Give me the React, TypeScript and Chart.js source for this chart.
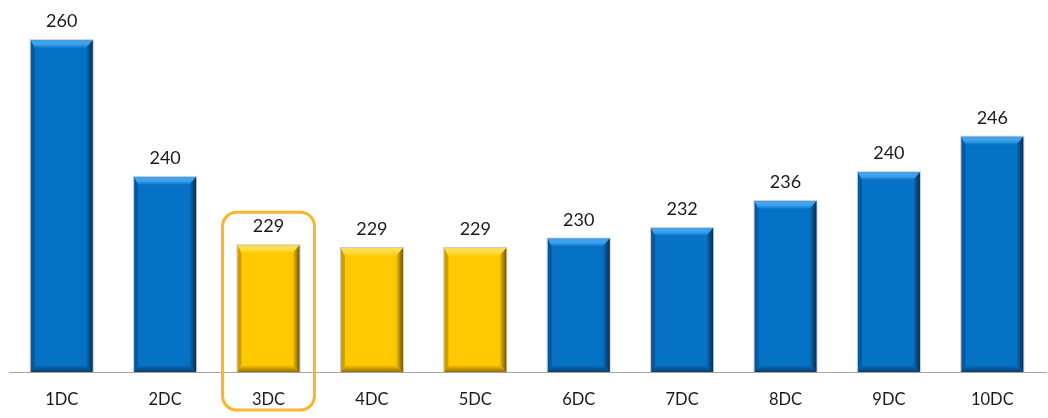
import React, { useEffect, useRef } from "react";
import { Chart, registerables } from "chart.js";

Chart.register(...registerables);

const categories = ["1DC", "2DC", "3DC", "4DC", "5DC", "6DC", "7DC", "8DC", "9DC", "10DC"];
const values = [260.0, 239.6, 229.4, 229.0, 229.0, 230.4, 232.0, 236.0, 240.3, 245.6];
const valueLabels = ["260", "240", "229", "229", "229", "230", "232", "236", "240", "246"];
const yellowCategories = ["3DC", "4DC", "5DC"];
const boxedCategory = "3DC";
const axisMin = 210.5;
const axisMax = 266;

const BLUE = { base: "#0572C6", light: "#3FA2EC", dark: "#0A2C4E" };
const YELLOW = { base: "#FFC800", light: "#FFDE4D", dark: "#6E5500" };

const FONT = "Lato, 'Open Sans', sans-serif";

function pal(i: number) {
  return yellowCategories.includes(categories[i]) ? YELLOW : BLUE;
}

const bevelPlugin = {
  id: "bevel",
  afterDatasetsDraw(chart: any) {
    const ctx = chart.ctx;
    const meta = chart.getDatasetMeta(0);
    meta.data.forEach((bar: any, i: number) => {
      const p = pal(i);
      const L = bar.x - bar.width / 2;
      const R = bar.x + bar.width / 2;
      const T = bar.y;
      const B = Math.min(bar.base, chart.chartArea.bottom);
      const bt = 8, br = 7, bb = 7, bl = 4;
      ctx.save();
      let g = ctx.createLinearGradient(0, T, 0, T + bt);
      g.addColorStop(0, p.light);
      g.addColorStop(0.5, p.light);
      g.addColorStop(1, p.base);
      ctx.fillStyle = g;
      ctx.beginPath();
      ctx.moveTo(L, T);
      ctx.lineTo(R, T);
      ctx.lineTo(R - br, T + bt);
      ctx.lineTo(L + bl, T + bt);
      ctx.closePath();
      ctx.fill();
      g = ctx.createLinearGradient(R - br, 0, R, 0);
      g.addColorStop(0, p.base);
      g.addColorStop(1, p.dark);
      ctx.fillStyle = g;
      ctx.beginPath();
      ctx.moveTo(R, T);
      ctx.lineTo(R, B);
      ctx.lineTo(R - br, B - bb);
      ctx.lineTo(R - br, T + bt);
      ctx.closePath();
      ctx.fill();
      g = ctx.createLinearGradient(0, B - bb, 0, B);
      g.addColorStop(0, p.base);
      g.addColorStop(1, p.dark);
      ctx.globalAlpha = 0.75;
      ctx.fillStyle = g;
      ctx.beginPath();
      ctx.moveTo(L, B);
      ctx.lineTo(R, B);
      ctx.lineTo(R - br, B - bb);
      ctx.lineTo(L + bl, B - bb);
      ctx.closePath();
      ctx.fill();
      ctx.globalAlpha = 0.35;
      ctx.fillStyle = p.dark;
      ctx.beginPath();
      ctx.moveTo(L, T);
      ctx.lineTo(L + bl, T + bt);
      ctx.lineTo(L + bl, B - bb);
      ctx.lineTo(L, B);
      ctx.closePath();
      ctx.fill();
      ctx.globalAlpha = 0.5;
      ctx.strokeStyle = "#9A9A9A";
      ctx.lineWidth = 1;
      ctx.strokeRect(L - 0.5, T - 0.5, R - L + 1, B - T + 1);
      ctx.restore();
    });
  },
};

const labelPlugin = {
  id: "valueLabels",
  afterDatasetsDraw(chart: any) {
    const ctx = chart.ctx;
    const meta = chart.getDatasetMeta(0);
    ctx.save();
    ctx.font = `18px ${FONT}`;
    ctx.fillStyle = "#1A1A1A";
    ctx.textAlign = "center";
    ctx.textBaseline = "alphabetic";
    meta.data.forEach((bar: any, i: number) => {
      ctx.fillText(valueLabels[i], bar.x, bar.y - 13);
    });
    ctx.restore();
  },
};

const axisLinePlugin = {
  id: "axisLine",
  beforeDatasetsDraw(chart: any) {
    const ctx = chart.ctx;
    const y = Math.round(chart.chartArea.bottom) + 0.5;
    ctx.save();
    ctx.strokeStyle = "#A6A6A6";
    ctx.lineWidth = 1;
    ctx.beginPath();
    ctx.moveTo(chart.chartArea.left - 1, y);
    ctx.lineTo(chart.width - 1, y);
    ctx.stroke();
    ctx.restore();
  },
};

const boxPlugin = {
  id: "highlightBox",
  afterDraw(chart: any) {
    const idx = categories.indexOf(boxedCategory);
    const bar: any = chart.getDatasetMeta(0).data[idx];
    if (!bar) return;
    const ctx = chart.ctx;
    const hw = bar.width * 0.74;
    const x = bar.x - hw;
    const w = hw * 2;
    const top = bar.y - 33;
    const bottom = chart.chartArea.bottom + 38;
    ctx.save();
    ctx.strokeStyle = "#FAB431";
    ctx.lineWidth = 3;
    ctx.beginPath();
    ctx.roundRect(x, top, w, bottom - top, 14);
    ctx.stroke();
    ctx.restore();
  },
};

export default function App() {
  const ref = useRef<HTMLCanvasElement | null>(null);
  useEffect(() => {
    if (!ref.current) return;
    const chart = new Chart(ref.current, {
      type: "bar",
      data: {
        labels: categories,
        datasets: [
          {
            data: values,
            base: axisMin,
            backgroundColor: values.map((_, i) => pal(i).base),
            borderWidth: 0,
            barPercentage: 0.6,
            categoryPercentage: 1,
          } as any,
        ],
      },
      options: {
        animation: false,
        responsive: true,
        maintainAspectRatio: false,
        layout: { padding: { left: 10, right: 4, top: 0, bottom: 0 } },
        plugins: { legend: { display: false }, tooltip: { enabled: false } },
        scales: {
          x: {
            grid: { display: false, drawTicks: false },
            border: { display: false },
            ticks: { color: "#1A1A1A", font: { family: FONT, size: 16.5 }, padding: 18 },
            afterFit: (scale: any) => {
              scale.height = 46;
            },
          },
          y: { display: false, min: axisMin, max: axisMax },
        },
      },
      plugins: [axisLinePlugin, bevelPlugin, labelPlugin, boxPlugin],
    });
    return () => chart.destroy();
  }, []);
  return (
    <div style={{ position: "absolute", left: 0, top: 0, width: 1048, height: 418, background: "#fff" }}>
      <canvas ref={ref} />
    </div>
  );
}
